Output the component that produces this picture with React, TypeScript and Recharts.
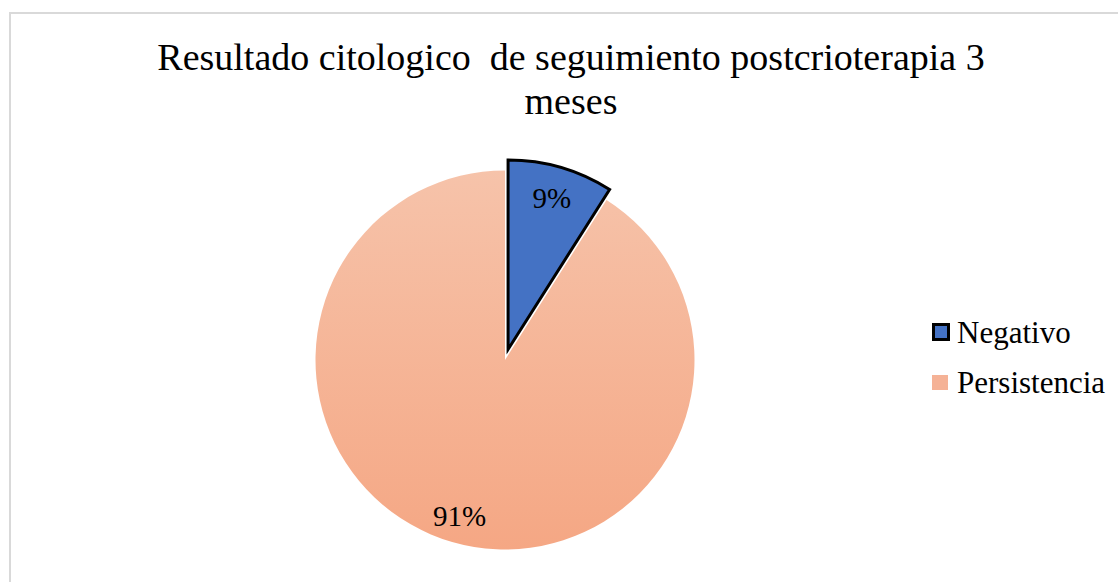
import { PieChart, Pie, Cell, Legend } from "recharts";

// Datos
const categories = ["Negativo", "Persistencia"];
const values = [9, 91];

const data = categories.map((name, i) => ({ name, value: values[i] }));

const BLUE = "#4472C4";
const RAD = Math.PI / 180;
const CX = 505;
const CY = 360;
const R = 189.5;
const EXPLODE = 11;

// angulo medio de la porcion separada (Negativo), horario desde las 12
const total = values.reduce((a, b) => a + b, 0);
const midNeg = ((values[0] / total) * 360) / 2;
const cx2 = CX + EXPLODE * Math.sin(midNeg * RAD);
const cy2 = CY - EXPLODE * Math.cos(midNeg * RAD);

const makeLabel = (only: number, k: number) => (props: any) => {
  const { cx, cy, midAngle, outerRadius, percent, index } = props;
  if (index !== only) return null;
  const r = outerRadius * k;
  const x = cx + r * Math.cos(-midAngle * RAD);
  const y = cy + r * Math.sin(-midAngle * RAD);
  return (
    <text
      x={x}
      y={y}
      fill="#000"
      textAnchor="middle"
      dominantBaseline="central"
      fontFamily="'Liberation Serif', 'Times New Roman', serif"
      fontSize={29}
    >
      {`${Math.round(percent * 100)}%`}
    </text>
  );
};

const LegendContent = (props: any) => {
  const { payload } = props;
  // las dos tortas repiten las categorias: quedarse con una entrada por nombre
  const items = categories.filter((c) => (payload || []).some((p: any) => p.value === c));
  return (
    <div style={{ fontFamily: "'Liberation Serif', 'Times New Roman', serif" }}>
      {items.map((name, i) => (
        <div
          key={name}
          style={{ position: "relative", height: 50, lineHeight: "30px", fontSize: 31, color: "#000" }}
        >
          <span
            style={
              i === 0
                ? {
                    position: "absolute",
                    left: 0,
                    top: 5,
                    width: 12,
                    height: 12,
                    background: BLUE,
                    border: "3px solid #000",
                  }
                : {
                    position: "absolute",
                    left: 0,
                    top: 7,
                    width: 16,
                    height: 15,
                    background: "#F5B296",
                  }
            }
          />
          <span style={{ position: "absolute", left: 25, top: 0, whiteSpace: "nowrap" }}>{name}</span>
        </div>
      ))}
    </div>
  );
};

const App = () => {
  return (
    <div
      style={{
        position: "absolute",
        left: 0,
        top: 0,
        width: 1118,
        height: 582,
        overflow: "hidden",
        background: "#fff",
      }}
    >
      <div
        style={{
          position: "absolute",
          left: 9,
          top: 12,
          width: 1200,
          height: 700,
          borderLeft: "2px solid #D9D9D9",
          borderTop: "2px solid #D9D9D9",
        }}
      />
      <div
        style={{
          position: "absolute",
          left: 131,
          top: 35,
          width: 880,
          textAlign: "center",
          fontFamily: "'Liberation Serif', 'Times New Roman', serif",
          fontSize: 38,
          lineHeight: "44px",
          color: "#000",
          whiteSpace: "pre-wrap",
        }}
      >
        {"Resultado citologico  de seguimiento postcrioterapia 3 meses"}
      </div>
      <div style={{ position: "absolute", left: 0, top: 0 }}>
        <PieChart width={1118} height={582} margin={{ top: 0, right: 0, bottom: 0, left: 0 }}>
          <defs>
            <linearGradient id="persGrad" x1="0" y1="0" x2="0" y2="1">
              <stop offset="0%" stopColor="#F6C3AA" />
              <stop offset="100%" stopColor="#F5A784" />
            </linearGradient>
          </defs>
          <Pie
            data={data}
            dataKey="value"
            nameKey="name"
            cx={CX}
            cy={CY}
            outerRadius={R}
            startAngle={90}
            endAngle={-270}
            labelLine={false}
            label={makeLabel(1, 0.86)}
            isAnimationActive={false}
          >
            <Cell fill="none" stroke="none" />
            <Cell fill="url(#persGrad)" stroke="none" />
          </Pie>
          <Pie
            data={data}
            dataKey="value"
            nameKey="name"
            cx={cx2}
            cy={cy2}
            outerRadius={R}
            startAngle={90}
            endAngle={-270}
            labelLine={false}
            label={makeLabel(0, 0.83)}
            isAnimationActive={false}
          >
            <Cell fill={BLUE} stroke="#000" strokeWidth={3} strokeLinejoin="miter" />
            <Cell fill="none" stroke="none" />
          </Pie>
          <Legend
            content={<LegendContent />}
            wrapperStyle={{ position: "absolute", left: 932, top: 318, width: 186, height: 100 }}
          />
        </PieChart>
      </div>
    </div>
  );
};

export default App;
